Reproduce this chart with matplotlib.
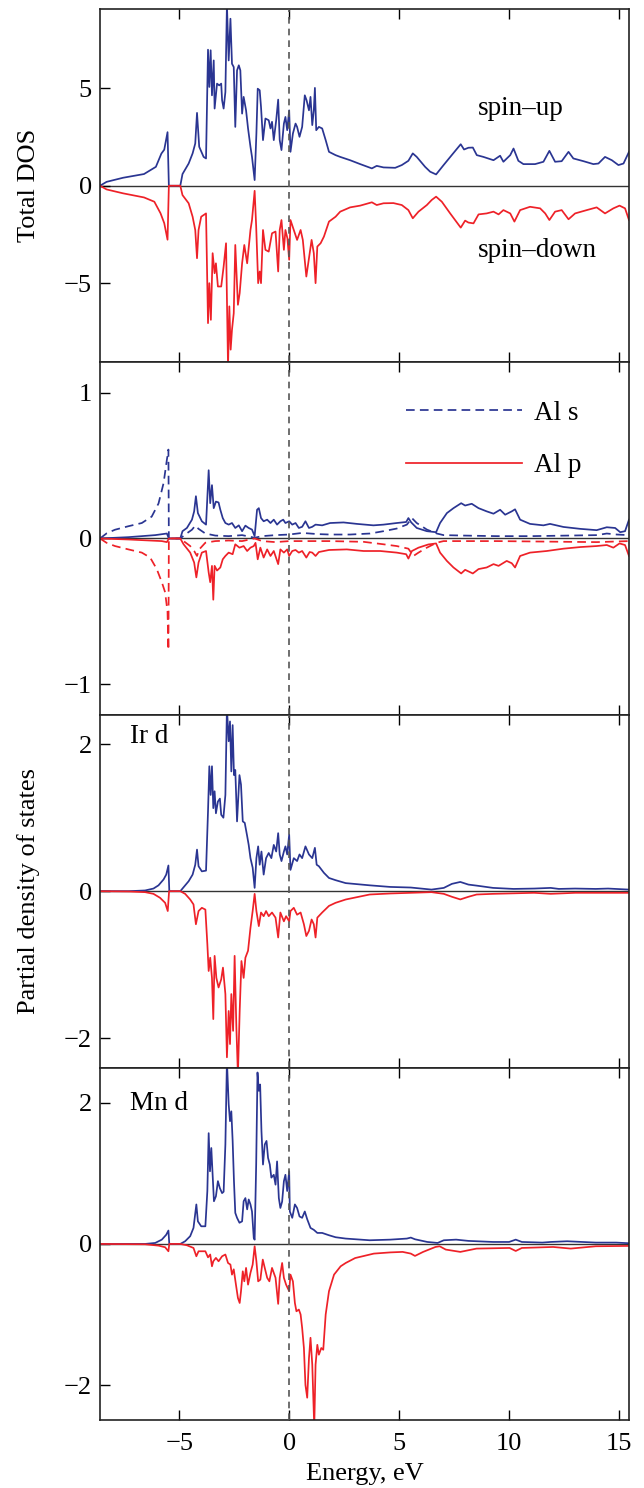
import numpy as np
import matplotlib
matplotlib.use('Agg')
import matplotlib.pyplot as plt
from matplotlib.lines import Line2D

plt.rcParams['font.family'] = ['Liberation Serif', 'DejaVu Serif']
plt.rcParams['font.size'] = 18

BLUE = '#2a3592'
RED = '#ee2128'

# ------------------------------
# Data (energy in eV, DOS values)
# ------------------------------
tot_up = [(-8.6, 0), (-8.3, 0.2), (-7.55, 0.41), (-6.6, 0.6), (-6.06, 0.97), (-5.81, 1.65), (-5.68, 1.85),
          (-5.53, 2.75), (-5.47, 0.0),
          (-4.95, 0.0), (-4.85, 0.6), (-4.57, 1.14), (-4.39, 1.66), (-4.27, 2.17), (-4.19, 3.74), (-4.09, 2.0),
          (-3.89, 1.48), (-3.78, 1.4), (-3.69, 6.98), (-3.63, 5.07), (-3.57, 6.95), (-3.51, 4.64), (-3.43, 6.43),
          (-3.39, 3.96), (-3.28, 5.24), (-3.18, 5.15), (-3.09, 5.24), (-3.05, 4.39), (-2.98, 3.96), (-2.90, 4.81),
          (-2.83, 9.3), (-2.75, 6.43), (-2.67, 8.57), (-2.60, 6.26), (-2.52, 6.09), (-2.45, 3.02), (-2.37, 5.92),
          (-2.29, 6.18), (-2.22, 5.92), (-2.14, 3.70), (-2.07, 4.56), (-1.96, 3.87), (-1.87, 2.94), (-1.76, 2.0),
          (-1.69, 1.48), (-1.57, 0.29), (-1.49, 2.68), (-1.43, 4.98), (-1.34, 4.90), (-1.28, 4.04), (-1.19, 2.34),
          (-1.08, 3.45), (-0.93, 3.36), (-0.85, 2.94), (-0.78, 3.28), (-0.70, 2.34), (-0.59, 3.36), (-0.50, 4.42),
          (-0.43, 2.34), (-0.35, 1.83), (-0.24, 3.19), (-0.17, 3.53), (-0.09, 2.85), (0.0, 3.87), (0.06, 1.74),
          (0.17, 2.68), (0.29, 3.19), (0.36, 3.02), (0.47, 2.51), (0.59, 3.02), (0.71, 4.64), (0.79, 4.39),
          (0.90, 3.87), (0.97, 4.56), (1.05, 3.11), (1.12, 3.87), (1.17, 5.02), (1.23, 2.85), (1.35, 3.02),
          (1.50, 2.94), (1.66, 2.34), (1.81, 1.74), (2.11, 1.57), (2.32, 1.48), (2.77, 1.31), (3.23, 1.11),
          (3.76, 0.89), (3.98, 1.02), (4.29, 0.94), (4.82, 0.92), (5.12, 1.06), (5.42, 1.28), (5.62, 1.66),
          (5.80, 1.48), (6.18, 0.97), (6.41, 0.72), (6.68, 0.58), (7.02, 1.06), (7.39, 1.57), (7.80, 2.13),
          (7.95, 1.86), (8.15, 1.95), (8.35, 1.96), (8.53, 1.57), (8.83, 1.48), (9.29, 1.31), (9.59, 1.54),
          (9.74, 1.23), (10.05, 1.57), (10.20, 1.91), (10.42, 1.28), (10.65, 1.11), (11.18, 1.11), (11.56, 1.23),
          (11.83, 1.79), (12.09, 1.23), (12.39, 1.26), (12.70, 1.74), (12.92, 1.40), (13.38, 1.26), (13.83, 1.11),
          (14.06, 1.14), (14.36, 1.48), (14.67, 1.31), (14.97, 1.06), (15.20, 1.14), (15.45, 1.74)]

tot_dn = [(-8.6, 0), (-8.3, -0.19), (-7.55, -0.39), (-6.6, -0.6), (-6.13, -0.82), (-5.85, -1.41), (-5.68, -1.92),
          (-5.53, -2.77), (-5.47, 0), (-4.95, 0), (-4.85, -0.48), (-4.57, -0.90), (-4.39, -1.59),
          (-4.27, -2.27), (-4.19, -3.72), (-4.12, -2.27), (-4.0, -1.59), (-3.78, -1.42), (-3.69, -7.05), (-3.63, -5.0),
          (-3.56, -6.88), (-3.48, -3.46), (-3.39, -4.49), (-3.33, -3.98), (-3.24, -5.17), (-3.09, -5.17), (-2.98, -4.15),
          (-2.87, -2.95), (-2.78, -9.3), (-2.72, -6.19), (-2.66, -8.41), (-2.60, -7.39), (-2.52, -6.54), (-2.45, -3.04),
          (-2.33, -6.11), (-2.25, -5.51), (-2.14, -3.98), (-2.04, -3.04), (-1.91, -3.98), (-1.76, -2.27), (-1.69, -1.76),
          (-1.57, -0.26), (-1.50, -2.10), (-1.41, -5.0), (-1.34, -4.40), (-1.28, -5.0), (-1.19, -2.27), (-1.08, -3.29),
          (-0.93, -3.38), (-0.78, -2.44), (-0.62, -2.35), (-0.50, -4.40), (-0.43, -2.27), (-0.35, -1.76), (-0.24, -3.29),
          (-0.17, -2.27), (-0.08, -2.70), (0.0, -3.80), (0.06, -1.76), (0.21, -2.27), (0.36, -2.78), (0.52, -2.27),
          (0.62, -2.78), (0.78, -4.66), (0.90, -3.72), (1.02, -2.78), (1.12, -3.46), (1.20, -5.0), (1.28, -3.12),
          (1.43, -2.95), (1.58, -2.61), (1.81, -1.84), (2.11, -1.59), (2.32, -1.33), (2.77, -1.11), (3.23, -1.02),
          (3.76, -0.85), (3.98, -0.99), (4.29, -0.90), (4.74, -0.89), (5.12, -0.99), (5.42, -1.25), (5.62, -1.67),
          (5.88, -1.33), (6.26, -0.99), (6.48, -0.73), (6.68, -0.56), (6.94, -0.82), (7.32, -1.42), (7.80, -2.15),
          (8.0, -1.79), (8.15, -1.89), (8.38, -1.93), (8.61, -1.47), (8.98, -1.42), (9.29, -1.33), (9.52, -1.47),
          (9.74, -1.25), (10.05, -1.42), (10.24, -1.84), (10.50, -1.25), (10.95, -1.08), (11.41, -1.16), (11.64, -1.42),
          (11.83, -1.76), (12.09, -1.33), (12.39, -1.25), (12.70, -1.72), (13.00, -1.42), (13.53, -1.25), (13.98, -1.11),
          (14.36, -1.42), (14.74, -1.16), (15.02, -1.02), (15.27, -1.16), (15.45, -1.76)]

als_up = [(-8.6, 0), (-8.3, 0.035), (-7.92, 0.06), (-7.31, 0.084), (-6.70, 0.106), (-6.25, 0.15), (-5.94, 0.24),
          (-5.71, 0.38), (-5.56, 0.54), (-5.49, 0.61), (-5.47, 0), (-4.95, 0), (-4.73, 0.027), (-4.42, 0.06),
          (-4.27, 0.088), (-4.12, 0.066), (-3.81, 0.034), (-3.36, 0.02), (-2.75, 0.016), (-2.14, 0.023),
          (-1.57, 0.005), (-1.23, 0.016), (-0.62, 0.023), (0, 0.027), (0.59, 0.038), (1.3, 0.03), (1.86, 0.027),
          (2.77, 0.027), (3.68, 0.034), (4.29, 0.05), (4.89, 0.068), (5.35, 0.095), (5.58, 0.14), (5.80, 0.106),
          (6.26, 0.061), (6.71, 0.034), (7.02, 0.023), (7.92, 0.02), (9.44, 0.016), (11.0, 0.016), (14.0, 0.023),
          (14.44, 0.034), (14.9, 0.027), (15.45, 0.023)]

alp_up = [(-8.6, 0), (-7.31, 0.009), (-6.09, 0.023), (-5.56, 0.034), (-5.47, 0), (-4.95, 0), (-4.85, 0.05),
          (-4.65, 0.072), (-4.42, 0.129), (-4.32, 0.186), (-4.24, 0.29), (-4.15, 0.174), (-3.97, 0.118), (-3.78, 0.095),
          (-3.66, 0.468), (-3.59, 0.242), (-3.51, 0.366), (-3.43, 0.208), (-3.33, 0.253), (-3.21, 0.247), (-3.13, 0.197),
          (-3.02, 0.14), (-2.90, 0.106), (-2.75, 0.095), (-2.60, 0.106), (-2.45, 0.072), (-2.29, 0.09), (-2.14, 0.05),
          (-1.99, 0.088), (-1.84, 0.072), (-1.69, 0.061), (-1.57, 0.016), (-1.46, 0.197), (-1.38, 0.208), (-1.28, 0.14),
          (-1.16, 0.118), (-1.0, 0.129), (-0.85, 0.106), (-0.70, 0.129), (-0.55, 0.095), (-0.40, 0.118), (-0.27, 0.129),
          (-0.17, 0.106), (0, 0.118), (0.14, 0.095), (0.29, 0.106), (0.44, 0.072), (0.59, 0.08), (0.74, 0.118),
          (0.90, 0.072), (1.05, 0.08), (1.20, 0.095), (1.5, 0.09), (1.86, 0.106), (2.47, 0.11), (3.08, 0.10),
          (3.83, 0.09), (4.29, 0.095), (4.89, 0.106), (5.32, 0.113), (5.42, 0.14), (5.55, 0.11), (5.80, 0.072),
          (6.26, 0.05), (6.68, 0.043), (6.86, 0.106), (7.17, 0.174), (7.47, 0.208), (7.82, 0.242), (8.0, 0.226),
          (8.30, 0.238), (8.61, 0.208), (8.98, 0.186), (9.29, 0.17), (9.59, 0.197), (9.82, 0.163), (10.12, 0.186),
          (10.27, 0.20), (10.50, 0.129), (10.95, 0.10), (11.56, 0.09), (11.86, 0.10), (12.47, 0.079), (13.23, 0.066),
          (13.98, 0.057), (14.44, 0.077), (14.82, 0.072), (15.05, 0.043), (15.27, 0.05), (15.45, 0.129)]

als_dn = [(-8.6, 0), (-8.3, -0.03), (-7.92, -0.052), (-7.31, -0.075), (-6.70, -0.097), (-6.32, -0.131),
          (-6.02, -0.21), (-5.79, -0.30), (-5.64, -0.369), (-5.53, -0.505), (-5.49, -0.765), (-5.47, 0), (-4.95, 0),
          (-4.80, -0.018), (-4.50, -0.052), (-4.32, -0.086), (-4.19, -0.12), (-4.09, -0.075), (-3.81, -0.029),
          (-3.36, -0.018), (-2.75, -0.014), (-2.14, -0.018), (-1.57, 0), (-1.23, -0.018), (-0.62, -0.025),
          (0, -0.018), (1.05, -0.018), (1.86, -0.018), (3.38, -0.023), (4.29, -0.04), (4.89, -0.052), (5.42, -0.07),
          (5.65, -0.12), (5.88, -0.097), (6.26, -0.063), (6.71, -0.029), (7.02, -0.018), (9.44, -0.018),
          (13.98, -0.025), (15.45, -0.018)]

alp_dn = [(-8.6, 0), (-7.31, -0.007), (-5.79, -0.018), (-5.56, -0.025), (-5.47, 0), (-4.95, 0), (-4.80, -0.04),
          (-4.50, -0.097), (-4.32, -0.165), (-4.22, -0.267), (-4.12, -0.165), (-3.97, -0.097), (-3.78, -0.086),
          (-3.66, -0.233), (-3.59, -0.30), (-3.51, -0.188), (-3.45, -0.42), (-3.39, -0.188), (-3.28, -0.22),
          (-3.13, -0.199), (-3.02, -0.143), (-2.90, -0.12), (-2.75, -0.097), (-2.57, -0.108), (-2.45, -0.04),
          (-2.26, -0.063), (-2.07, -0.052), (-1.91, -0.086), (-1.76, -0.063), (-1.61, -0.052), (-1.53, -0.03),
          (-1.43, -0.143), (-1.31, -0.063), (-1.16, -0.131), (-1.0, -0.075), (-0.85, -0.12), (-0.70, -0.086),
          (-0.50, -0.176), (-0.40, -0.075), (-0.24, -0.097), (-0.09, -0.075), (0, -0.12), (0.14, -0.086),
          (0.29, -0.079), (0.44, -0.097), (0.59, -0.086), (0.78, -0.131), (0.93, -0.093), (1.05, -0.097),
          (1.20, -0.12), (1.35, -0.093), (1.81, -0.079), (2.62, -0.075), (3.38, -0.086), (4.14, -0.086),
          (4.89, -0.097), (5.32, -0.108), (5.42, -0.138), (5.58, -0.086), (5.88, -0.063), (6.33, -0.041),
          (6.68, -0.034), (6.86, -0.097), (7.17, -0.154), (7.47, -0.199), (7.82, -0.24), (8.0, -0.215), (8.35, -0.24),
          (8.61, -0.21), (8.98, -0.199), (9.29, -0.176), (9.52, -0.188), (9.89, -0.154), (10.12, -0.17),
          (10.27, -0.199), (10.50, -0.12), (10.95, -0.097), (11.71, -0.086), (12.47, -0.07), (13.23, -0.059),
          (13.98, -0.052), (14.44, -0.045), (14.74, -0.063), (15.02, -0.034), (15.27, -0.045), (15.45, -0.12)]

ird_up = [(-8.6, 0), (-7.3, 0), (-6.55, 0.01), (-6.17, 0.036), (-5.94, 0.08), (-5.71, 0.16), (-5.59, 0.226),
          (-5.49, 0.35), (-5.45, 0), (-4.95, 0), (-4.80, 0.054), (-4.57, 0.136), (-4.39, 0.226), (-4.27, 0.36),
          (-4.19, 0.566), (-4.12, 0.34), (-3.97, 0.27), (-3.78, 0.28), (-3.69, 1.086), (-3.63, 1.70), (-3.57, 1.31),
          (-3.51, 1.70), (-3.45, 1.13), (-3.39, 1.36), (-3.33, 1.06), (-3.24, 1.22), (-3.15, 1.26), (-3.09, 1.04),
          (-2.99, 1.0), (-2.90, 1.31), (-2.83, 2.5), (-2.75, 2.04), (-2.69, 2.31), (-2.63, 1.63), (-2.57, 2.26),
          (-2.51, 1.58), (-2.45, 1.65), (-2.37, 0.95), (-2.26, 1.58), (-2.19, 1.45), (-2.11, 0.95), (-2.02, 0.93),
          (-1.91, 0.75), (-1.84, 0.63), (-1.76, 0.45), (-1.66, 0.32), (-1.57, 0.045), (-1.49, 0.45), (-1.41, 0.61),
          (-1.34, 0.36), (-1.26, 0.54), (-1.16, 0.226), (-1.05, 0.45), (-0.93, 0.52), (-0.81, 0.45), (-0.70, 0.63),
          (-0.59, 0.54), (-0.50, 0.79), (-0.43, 0.50), (-0.35, 0.41), (-0.24, 0.54), (-0.17, 0.61), (-0.09, 0.50),
          (0, 0.77), (0.06, 0.29), (0.21, 0.45), (0.36, 0.41), (0.47, 0.50), (0.59, 0.45), (0.74, 0.61), (0.90, 0.50),
          (1.05, 0.45), (1.17, 0.59), (1.25, 0.36), (1.35, 0.34), (1.58, 0.25), (1.81, 0.18), (2.11, 0.15),
          (2.57, 0.11), (3.66, 0.08), (4.6, 0.058), (5.53, 0.05), (6.47, 0.022), (7.03, 0.045), (7.40, 0.10),
          (7.78, 0.126), (8.15, 0.09), (8.52, 0.076), (9.27, 0.045), (10.2, 0.031), (11.14, 0.036), (11.89, 0.045),
          (12.26, 0.031), (13.0, 0.036), (13.94, 0.031), (14.5, 0.036), (15.45, 0.022)]

ird_dn = [(-8.6, 0), (-7.3, -0.004), (-6.55, -0.013), (-6.17, -0.036), (-5.87, -0.09), (-5.64, -0.158),
          (-5.52, -0.27), (-5.46, 0), (-4.95, 0), (-4.73, -0.036), (-4.50, -0.113), (-4.35, -0.18), (-4.24, -0.45),
          (-4.12, -0.27), (-3.97, -0.226), (-3.81, -0.25), (-3.72, -0.72), (-3.66, -1.086), (-3.59, -0.905),
          (-3.51, -1.18), (-3.45, -1.74), (-3.39, -0.88), (-3.31, -1.18), (-3.21, -1.31), (-3.09, -1.20),
          (-3.01, -1.04), (-2.90, -1.40), (-2.83, -2.26), (-2.75, -1.63), (-2.69, -2.08), (-2.63, -1.40),
          (-2.55, -1.90), (-2.48, -0.88), (-2.40, -1.86), (-2.33, -2.5), (-2.25, -1.63), (-2.17, -0.95),
          (-2.07, -1.18), (-1.99, -0.905), (-1.87, -0.81), (-1.76, -0.50), (-1.66, -0.27), (-1.57, -0.036),
          (-1.49, -0.27), (-1.38, -0.475), (-1.28, -0.29), (-1.16, -0.34), (-1.05, -0.27), (-0.93, -0.34),
          (-0.78, -0.29), (-0.62, -0.36), (-0.50, -0.63), (-0.40, -0.29), (-0.24, -0.41), (-0.14, -0.34), (0, -0.41),
          (0.06, -0.27), (0.21, -0.226), (0.36, -0.32), (0.52, -0.29), (0.67, -0.45), (0.78, -0.61), (0.90, -0.54),
          (1.02, -0.385), (1.12, -0.45), (1.20, -0.63), (1.28, -0.36), (1.50, -0.29), (1.81, -0.20), (2.11, -0.158),
          (2.57, -0.113), (3.66, -0.045), (4.6, -0.031), (5.53, -0.022), (6.47, -0.013), (7.03, -0.036),
          (7.40, -0.076), (7.78, -0.112), (8.15, -0.076), (8.52, -0.045), (9.27, -0.036), (11.14, -0.022),
          (11.89, -0.036), (13.0, -0.022), (15.45, -0.022)]

mnd_up = [(-8.6, 0), (-6.55, 0), (-6.09, 0.014), (-5.79, 0.061), (-5.59, 0.13), (-5.49, 0.19), (-5.45, 0),
          (-4.95, 0), (-4.73, 0.038), (-4.50, 0.11), (-4.35, 0.227), (-4.22, 0.56), (-4.15, 0.32), (-4.0, 0.25),
          (-3.81, 0.25), (-3.72, 0.75), (-3.66, 1.57), (-3.60, 1.03), (-3.54, 1.36), (-3.48, 0.98), (-3.42, 0.605),
          (-3.33, 0.676), (-3.24, 0.89), (-3.15, 0.79), (-3.05, 0.72), (-2.98, 0.74), (-2.90, 1.41), (-2.83, 2.6),
          (-2.75, 1.98), (-2.69, 1.74), (-2.63, 1.88), (-2.57, 1.46), (-2.51, 0.89), (-2.45, 0.44), (-2.37, 0.37),
          (-2.26, 0.30), (-2.14, 0.32), (-2.07, 0.605), (-1.99, 0.65), (-1.91, 0.49), (-1.84, 0.63), (-1.76, 0.56),
          (-1.69, 0.46), (-1.61, 0.085), (-1.57, 0.06), (-1.50, 1.125), (-1.44, 2.43), (-1.38, 2.17), (-1.32, 2.26),
          (-1.26, 1.60), (-1.19, 1.125), (-1.11, 1.41), (-1.03, 1.46), (-0.96, 1.22), (-0.88, 1.125), (-0.81, 0.94),
          (-0.70, 0.98), (-0.62, 0.84), (-0.55, 1.17), (-0.47, 0.65), (-0.40, 0.51), (-0.32, 0.60), (-0.24, 0.89),
          (-0.17, 0.98), (-0.09, 0.75), (0, 1.03), (0.03, 0.46), (0.14, 0.37), (0.26, 0.56), (0.36, 0.51),
          (0.47, 0.39), (0.59, 0.37), (0.71, 0.46), (0.82, 0.35), (0.97, 0.227), (1.12, 0.20), (1.28, 0.156),
          (1.50, 0.156), (1.81, 0.123), (2.11, 0.095), (2.57, 0.076), (3.66, 0.052), (4.6, 0.061), (5.35, 0.076),
          (5.53, 0.09), (5.72, 0.066), (6.28, 0.028), (6.75, 0.014), (7.03, 0.052), (7.59, 0.061), (8.15, 0.043),
          (9.27, 0.028), (10.0, 0.028), (10.3, 0.061), (10.58, 0.028), (11.51, 0.019), (11.89, 0.028),
          (12.64, 0.038), (13.94, 0.019), (14.87, 0.019), (15.45, 0.01)]

mnd_dn = [(-8.6, 0), (-6.55, -0.005), (-5.94, -0.024), (-5.64, -0.047), (-5.49, -0.104), (-5.45, 0), (-4.95, 0),
          (-4.65, -0.019), (-4.35, -0.057), (-4.22, -0.175), (-4.12, -0.104), (-3.81, -0.104), (-3.69, -0.19),
          (-3.59, -0.15), (-3.51, -0.317), (-3.45, -0.246), (-3.33, -0.198), (-3.21, -0.246), (-3.05, -0.175),
          (-2.90, -0.15), (-2.78, -0.27), (-2.67, -0.293), (-2.60, -0.435), (-2.52, -0.36), (-2.42, -0.577),
          (-2.33, -0.766), (-2.25, -0.837), (-2.19, -0.67), (-2.11, -0.388), (-2.04, -0.53), (-1.96, -0.34),
          (-1.87, -0.577), (-1.76, -0.41), (-1.66, -0.293), (-1.57, -0.033), (-1.49, -0.246), (-1.41, -0.53),
          (-1.31, -0.506), (-1.20, -0.222), (-1.11, -0.34), (-1.0, -0.48), (-0.90, -0.53), (-0.78, -0.34),
          (-0.62, -0.48), (-0.50, -0.85), (-0.43, -0.48), (-0.32, -0.27), (-0.24, -0.48), (-0.14, -0.577),
          (0, -0.67), (0.06, -0.435), (0.17, -0.53), (0.26, -0.837), (0.33, -0.955), (0.44, -0.93), (0.52, -1.0),
          (0.59, -1.19), (0.67, -1.475), (0.74, -2.0), (0.82, -2.18), (0.90, -1.62), (0.97, -1.33), (1.05, -1.71),
          (1.14, -2.6), (1.20, -1.71), (1.28, -1.43), (1.35, -1.57), (1.46, -1.475), (1.55, -1.50), (1.66, -1.0),
          (1.81, -0.67), (2.04, -0.435), (2.34, -0.317), (2.57, -0.27), (3.0, -0.2), (3.85, -0.137), (4.6, -0.12),
          (5.16, -0.113), (5.53, -0.137), (5.72, -0.17), (6.09, -0.113), (6.65, -0.043), (6.84, -0.033),
          (7.12, -0.08), (7.78, -0.113), (8.52, -0.066), (10.02, -0.057), (10.3, -0.1), (10.58, -0.057),
          (12.0, -0.043), (12.8, -0.066), (13.94, -0.033), (15.45, -0.028)]

xlim = (-8.6, 15.45)
ylims = [(-9.05, 9.05), (-1.21, 1.21), (-2.4, 2.4), (-2.5, 2.5)]
yticks = [[-5, 0, 5], [-1, 0, 1], [-2, 0, 2], [-2, 0, 2]]
xticks = [-5, 0, 5, 10, 15]


def curve(pts):
    a = np.array(pts, dtype=float)
    return a[:, 0], a[:, 1]


fig = plt.figure(figsize=(6.44, 14.88), dpi=100)
gs = fig.add_gridspec(4, 1, left=0.1553, right=0.9767, top=0.9937, bottom=0.0455, hspace=0)
axes = [fig.add_subplot(gs[i]) for i in range(4)]

lw = 1.25
dash = (0, (5, 3))
fs = 19

# Panel 1: total DOS
ax = axes[0]
ax.plot(*curve(tot_up), color=BLUE, lw=lw)
ax.plot(*curve(tot_dn), color=RED, lw=lw)
ax.text(8.6, 3.62, 'spin\u2013up', fontsize=19.5)
ax.text(8.6, -3.67, 'spin\u2013down', fontsize=19.5)
ax.set_ylabel('Total DOS', fontsize=fs, labelpad=17)

# Panel 2: Al s / Al p
ax = axes[1]
ax.plot(*curve(als_up), color=BLUE, lw=lw, ls=dash)
ax.plot(*curve(als_dn), color=RED, lw=lw, ls=dash)
ax.plot(*curve(alp_up), color=BLUE, lw=lw)
ax.plot(*curve(alp_dn), color=RED, lw=lw)
handles = [Line2D([], [], color=BLUE, lw=lw, ls=dash), Line2D([], [], color=RED, lw=lw)]
ax.legend(handles, ['Al s', 'Al p'], loc='upper left', bbox_to_anchor=(0.578, 0.89),
          frameon=False, handlelength=4.3, handletextpad=0.45, labelspacing=1.0,
          borderpad=0, borderaxespad=0, fontsize=19.5)

# Panel 3: Ir d
ax = axes[2]
ax.plot(*curve(ird_up), color=BLUE, lw=lw)
ax.plot(*curve(ird_dn), color=RED, lw=lw)
ax.text(-7.23, 2.01, 'Ir d', fontsize=19.5)
ax.set_ylabel('Partial density of states', fontsize=fs, labelpad=17)

# Panel 4: Mn d
ax = axes[3]
ax.plot(*curve(mnd_up), color=BLUE, lw=lw)
ax.plot(*curve(mnd_dn), color=RED, lw=lw)
ax.text(-7.23, 1.9, 'Mn d', fontsize=19.5)
ax.set_xlabel('Energy, eV', fontsize=fs, labelpad=6)

for i, ax in enumerate(axes):
    ax.set_xlim(*xlim)
    ax.set_ylim(*ylims[i])
    ax.set_yticks(yticks[i])
    ax.set_xticks(xticks)
    ax.axhline(0, color='#333333', lw=1.0, zorder=1)
    ax.axvline(0, color='#555555', lw=1.2, ls=(0, (4, 3)), zorder=3)
    ax.tick_params(axis='both', direction='in', labelsize=fs, width=1.0)
    ax.tick_params(axis='x', top=True, length=7.5, pad=9)
    ax.tick_params(axis='y', length=7.5, pad=6)
    for s in ax.spines.values():
        s.set_linewidth(1.2)
        s.set_color('#222222')
    if i < 3:
        ax.tick_params(axis='x', labelbottom=False)

fig.savefig('out.png', dpi=100)
